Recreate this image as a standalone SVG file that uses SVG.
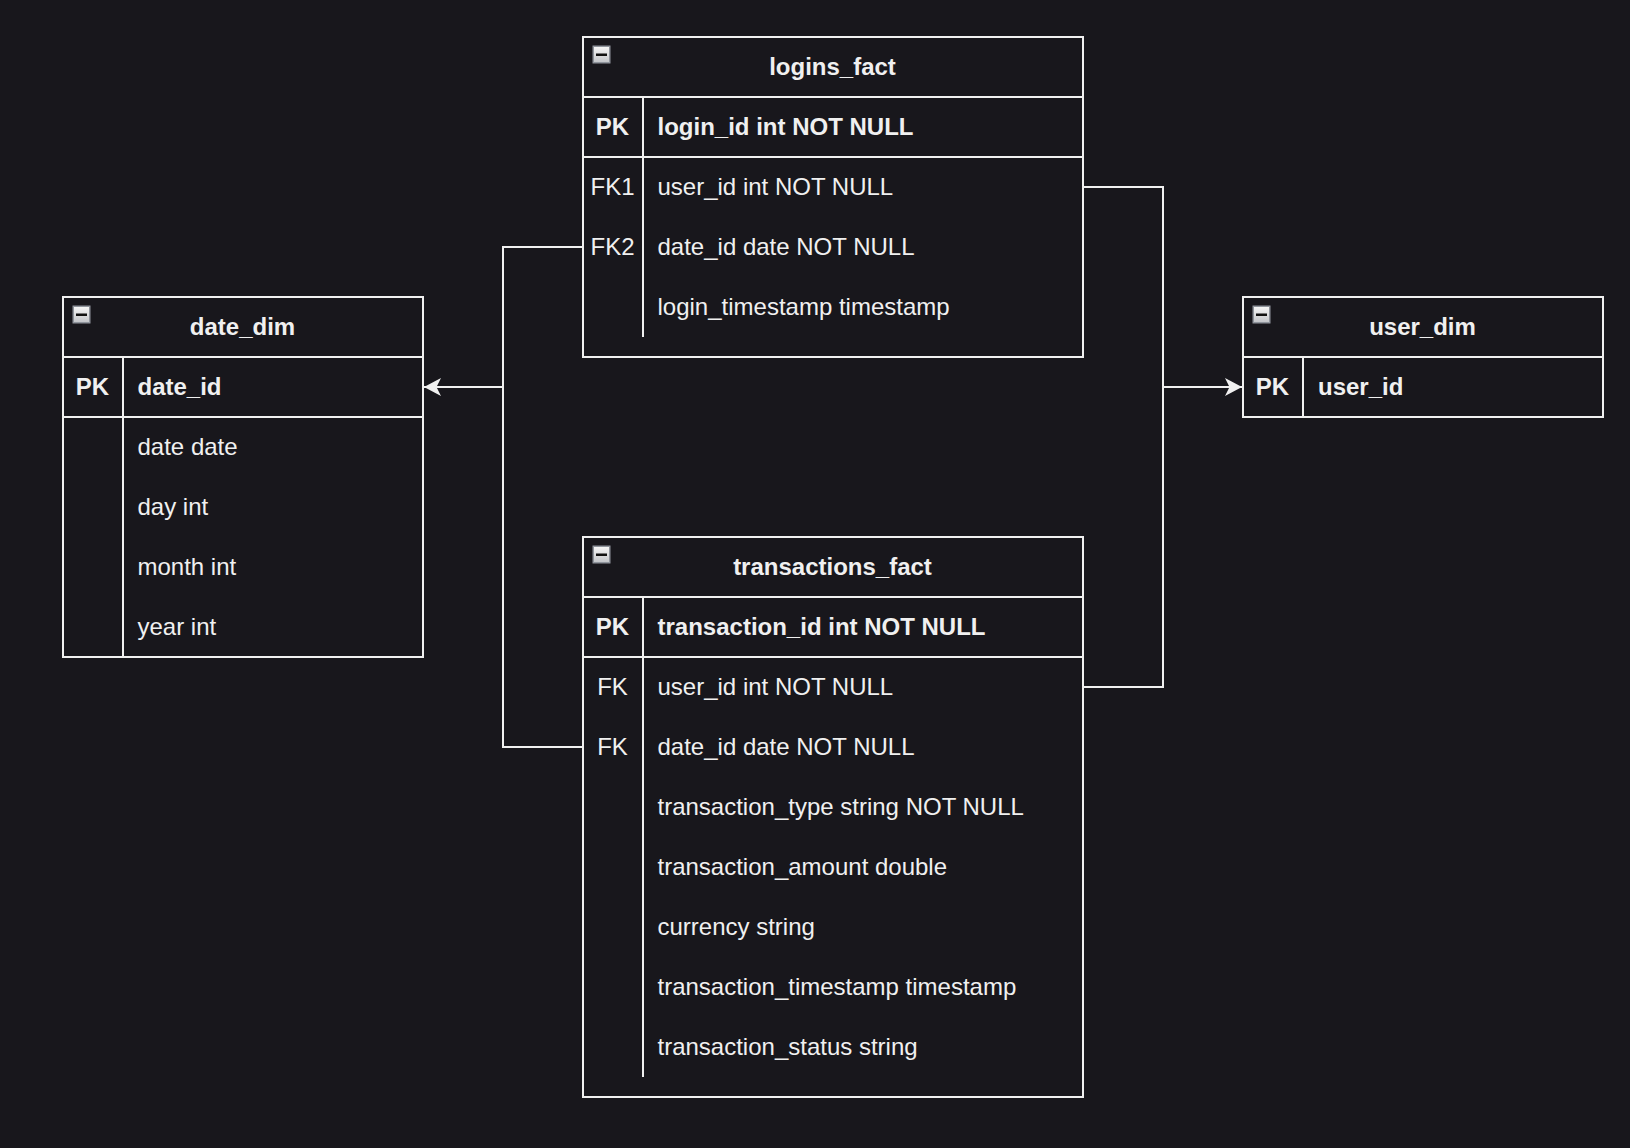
<svg xmlns="http://www.w3.org/2000/svg" width="1630" height="1148" viewBox="0 0 1630 1148">
<defs>
<style>
.bx{fill:none;stroke:#f0f0f0;stroke-width:2}
.ln{stroke:#f0f0f0;stroke-width:2;fill:none}
.t{font-family:"Liberation Sans",Arial,Helvetica,sans-serif;font-size:24px;fill:#f0f0f0}
.b{font-weight:bold}
.c{text-anchor:middle}
.cn{stroke:#f0f0f0;stroke-width:2;fill:none}
</style>
<linearGradient id="ig" x1="0" y1="0" x2="0" y2="1">
<stop offset="0" stop-color="#f6f6f6"/>
<stop offset="1" stop-color="#c4c6ca"/>
</linearGradient>
<g id="icon">
<rect x="0" y="0" width="18" height="18" fill="#8f949c"/>
<rect x="1.5" y="1.5" width="15" height="15" fill="url(#ig)"/>
<rect x="3.5" y="8" width="11" height="2.5" fill="#111"/>
</g>
<marker id="arr" viewBox="0 0 18 20" markerWidth="18" markerHeight="20" refX="17" refY="10" orient="auto" markerUnits="userSpaceOnUse">
<path d="M17,10 L0,1 L4.5,10 L0,19 Z" fill="#f0f0f0"/>
</marker>
</defs>
<rect x="0" y="0" width="1630" height="1148" fill="#18171c"/>

<g id="connectors">
<path class="cn" d="M583,247 H503 V387 H424" marker-end="url(#arr)"/>
<path class="cn" d="M583,747 H503 V387"/>
<path class="cn" d="M1083,187 H1163 V387 H1242" marker-end="url(#arr)"/>
<path class="cn" d="M1083,687 H1163 V387"/>
</g>

<g id="logins_fact">
<rect class="bx" x="583" y="37" width="500" height="320"/>
<line class="ln" x1="583" y1="97" x2="1083" y2="97"/>
<line class="ln" x1="583" y1="157" x2="1083" y2="157"/>
<line class="ln" x1="643" y1="97" x2="643" y2="337"/>
<use href="#icon" x="592.5" y="45.5"/>
<text class="t b c" x="832.5" y="75">logins_fact</text>
<text class="t b c" x="612.5" y="135">PK</text>
<text class="t b" x="657.5" y="135">login_id int NOT NULL</text>
<text class="t c" x="612.5" y="195">FK1</text>
<text class="t" x="657.5" y="195">user_id int NOT NULL</text>
<text class="t c" x="612.5" y="255">FK2</text>
<text class="t" x="657.5" y="255">date_id date NOT NULL</text>
<text class="t" x="657.5" y="315">login_timestamp timestamp</text>
</g>

<g id="date_dim">
<rect class="bx" x="63" y="297" width="360" height="360"/>
<line class="ln" x1="63" y1="357" x2="423" y2="357"/>
<line class="ln" x1="63" y1="417" x2="423" y2="417"/>
<line class="ln" x1="123" y1="357" x2="123" y2="657"/>
<use href="#icon" x="72.5" y="305.5"/>
<text class="t b c" x="242.5" y="334.5">date_dim</text>
<text class="t b c" x="92.5" y="394.5">PK</text>
<text class="t b" x="137.5" y="394.5">date_id</text>
<text class="t" x="137.5" y="454.5">date date</text>
<text class="t" x="137.5" y="514.5">day int</text>
<text class="t" x="137.5" y="574.5">month int</text>
<text class="t" x="137.5" y="634.5">year int</text>
</g>

<g id="user_dim">
<rect class="bx" x="1243" y="297" width="360" height="120"/>
<line class="ln" x1="1243" y1="357" x2="1603" y2="357"/>
<line class="ln" x1="1303" y1="357" x2="1303" y2="417"/>
<use href="#icon" x="1252.5" y="305.5"/>
<text class="t b c" x="1422.5" y="334.5">user_dim</text>
<text class="t b c" x="1272.5" y="394.5">PK</text>
<text class="t b" x="1318" y="394.5">user_id</text>
</g>

<g id="transactions_fact">
<rect class="bx" x="583" y="537" width="500" height="560"/>
<line class="ln" x1="583" y1="597" x2="1083" y2="597"/>
<line class="ln" x1="583" y1="657" x2="1083" y2="657"/>
<line class="ln" x1="643" y1="597" x2="643" y2="1077"/>
<use href="#icon" x="592.5" y="545.5"/>
<text class="t b c" x="832.5" y="575">transactions_fact</text>
<text class="t b c" x="612.5" y="635">PK</text>
<text class="t b" x="657.5" y="635">transaction_id int NOT NULL</text>
<text class="t c" x="612.5" y="695">FK</text>
<text class="t" x="657.5" y="695">user_id int NOT NULL</text>
<text class="t c" x="612.5" y="755">FK</text>
<text class="t" x="657.5" y="755">date_id date NOT NULL</text>
<text class="t" x="657.5" y="815">transaction_type string NOT NULL</text>
<text class="t" x="657.5" y="875">transaction_amount double</text>
<text class="t" x="657.5" y="935">currency string</text>
<text class="t" x="657.5" y="995">transaction_timestamp timestamp</text>
<text class="t" x="657.5" y="1055">transaction_status string</text>
</g>
</svg>
